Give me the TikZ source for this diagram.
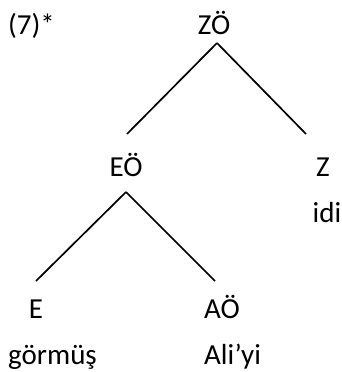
\documentclass[tikz,border=0pt]{standalone}
\usepackage{fontspec}
\setmainfont{Carlito}
\begin{document}
\begin{tikzpicture}[x=1pt,y=-1pt,
  lbl/.style={font=\fontsize{29}{33}\selectfont,inner sep=0pt,anchor=base},
  edge/.style={line width=1.7pt,black}]
\useasboundingbox (0,0) rectangle (342,372);
\node[lbl,anchor=base west] (num) at (8,34) {(7)*};
\node[lbl] (zo) at (214,34) {ZÖ};
\node[lbl] (eo) at (126,176) {EÖ};
\node[lbl] (z) at (323,176) {Z};
\node[lbl] (idi) at (327,222) {idi};
\node[lbl] (e) at (36,318) {E};
\node[lbl,anchor=base west] (ao) at (204,318) {AÖ};
\node[lbl,anchor=base west] (gor) at (8,364) {görmüş};
\node[lbl,anchor=base west] (ali) at (204,364) {Ali’yi};
\coordinate (zoA) at (217,43);
\coordinate (eoA) at (126,192);
\draw[edge] (zoA) -- (127,134) coordinate (eoT);
\draw[edge] (zoA) -- (306,134) coordinate (zT);
\draw[edge] (eoA) -- (36,281) coordinate (eT);
\draw[edge] (eoA) -- (215,281) coordinate (aoT);
\end{tikzpicture}
\end{document}
